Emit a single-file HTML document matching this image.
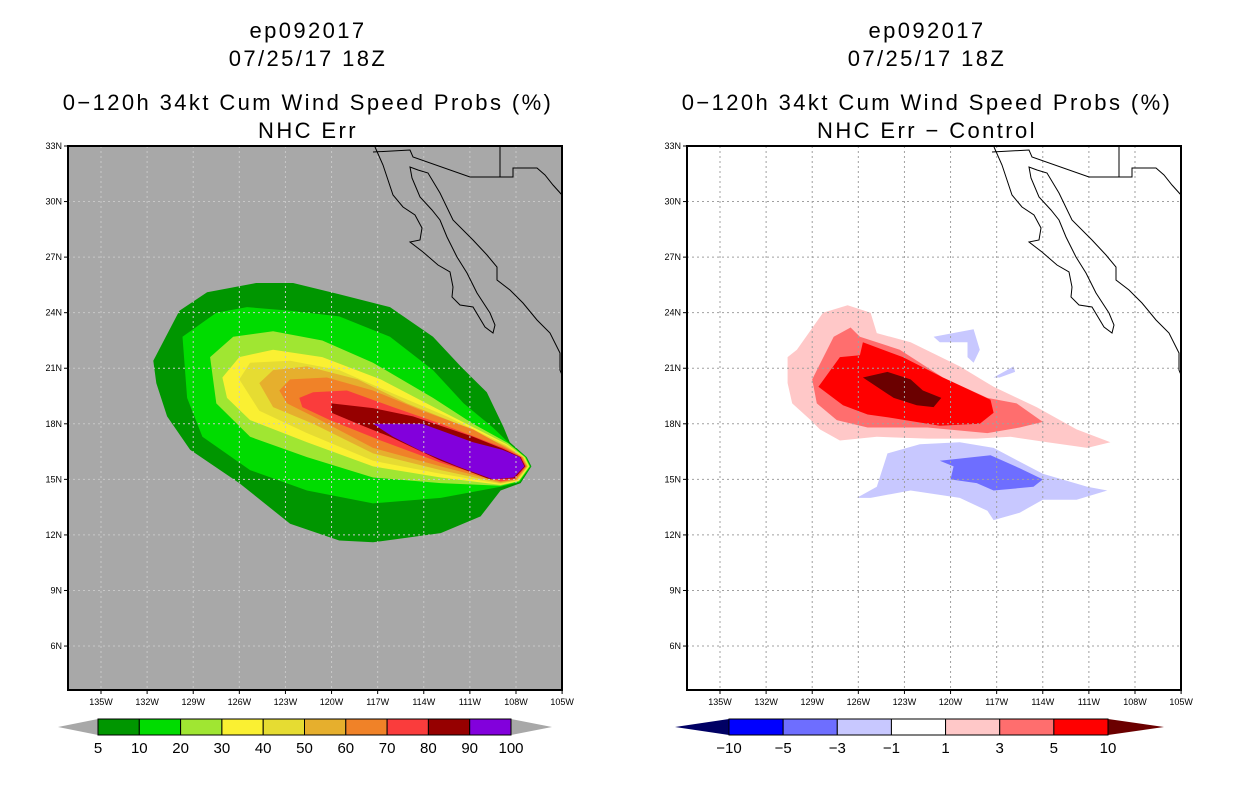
<!DOCTYPE html>
<html><head><meta charset="utf-8"><style>
body{margin:0;background:#fff;}
svg{display:block;font-family:"Liberation Sans",sans-serif;}
.t{font-size:22px;letter-spacing:2.4px;}
</style></head><body>
<svg id="s" width="1236" height="800" viewBox="0 0 1236 800">
<g text-anchor="middle" class="t">
<text x="308" y="38">ep092017</text>
<text x="308" y="66">07/25/17 18Z</text>
<text x="308" y="110">0−120h 34kt Cum Wind Speed Probs (%)</text>
<text x="308" y="138">NHC Err</text>
</g>
<g text-anchor="middle" class="t">
<text x="927" y="38">ep092017</text>
<text x="927" y="66">07/25/17 18Z</text>
<text x="927" y="110">0−120h 34kt Cum Wind Speed Probs (%)</text>
<text x="927" y="138">NHC Err − Control</text>
</g>
</svg>
<script>
// ---- data ----
const lonTicks=[135,132,129,126,123,120,117,114,111,108,105];
const latTicks=[33,30,27,24,21,18,15,12,9,6];
const probLevels=[5,10,20,30,40,50,60,70,80,90,100];
const probColors=["#009600","#00dc00","#a0e632","#faf032","#e6dc32","#e6af2d","#f08228","#fa3c3c","#960000","#8200dc"];
const diffLevels=[-10,-5,-3,-1,1,3,5,10];
const diffColors=["#0000ff","#6e6eff","#c8c8ff","#ffffff","#ffc8c8","#ff6e6e","#ff0000"];
// contours: [lonW, latN] pairs
const p5=[[131.6,21.4],[129.9,24.1],[128.1,25.1],[124.9,25.6],[122.5,25.6],[119.5,25.0],[116.2,24.3],[113.4,22.7],[111.6,21.1],[109.9,19.7],[108.8,17.8],[108.4,17.0],[107.3,16.2],[107.0,15.7],[107.7,14.8],[109.0,14.4],[110.3,13.0],[112.9,12.1],[117.3,11.6],[119.5,11.7],[122.7,12.6],[126.0,14.8],[129.2,16.6],[130.7,18.4],[131.4,20.2]];
const p10=[[129.7,22.7],[127.5,24.0],[125.5,24.3],[122.7,24.1],[119.5,23.8],[116.2,22.7],[113.4,20.9],[111.4,19.1],[109.5,17.8],[108.45,16.95],[107.35,16.2],[107.05,15.7],[107.75,14.85],[109.0,14.6],[112.9,14.0],[117.3,13.7],[121.6,14.4],[125.3,15.5],[128.4,17.3],[129.4,19.4]];
const p20=[[127.9,21.6],[126.4,22.7],[123.8,23.0],[120.6,22.5],[117.3,21.3],[113.4,19.4],[110.8,18.0],[108.5,16.95],[107.4,16.2],[107.1,15.7],[107.8,14.9],[109.0,14.65],[112.9,14.8],[117.3,15.1],[121.6,16.2],[125.3,17.3],[127.5,19.1]];
const p30=[[127.1,20.5],[126.0,21.6],[123.8,22.0],[120.6,21.6],[116.8,20.4],[112.9,18.7],[108.6,16.9],[107.45,16.2],[107.15,15.7],[107.85,14.9],[109.0,14.7],[112.9,15.1],[117.3,15.7],[121.6,17.0],[125.3,18.2],[126.8,19.4]];
const p40=[[126.0,20.4],[125.3,21.3],[122.7,21.4],[119.5,20.9],[116.2,19.7],[112.5,18.4],[108.65,16.85],[107.5,16.2],[107.2,15.7],[107.9,14.95],[109.0,14.75],[112.9,15.3],[117.3,16.0],[121.6,17.5],[124.7,18.7]];
const p50=[[124.7,20.2],[123.8,20.9],[121.6,21.1],[118.3,20.4],[115.1,19.1],[111.8,18.0],[108.7,16.8],[107.55,16.2],[107.25,15.7],[107.95,14.95],[109.0,14.8],[112.9,15.5],[117.3,16.4],[121.2,18.0],[123.8,18.9]];
const p60=[[123.4,19.8],[122.7,20.4],[120.3,20.5],[117.3,19.8],[114.1,18.7],[110.8,17.7],[108.75,16.75],[107.6,16.2],[107.3,15.7],[108.0,15.0],[109.0,14.85],[112.9,15.7],[117.3,16.7],[121.2,18.4],[122.9,19.1]];
const p70=[[122.1,19.4],[121.2,19.7],[119.0,19.8],[116.0,18.9],[112.9,18.0],[108.8,16.7],[107.65,16.2],[107.35,15.7],[108.05,15.0],[109.0,14.9],[112.9,15.9],[116.8,17.1],[120.1,18.2],[121.9,18.9]];
const p80=[[120.0,19.1],[117.3,18.85],[114.7,18.4],[110.8,17.3],[108.85,16.65],[107.7,16.2],[107.4,15.7],[108.1,15.05],[109.7,15.0],[112.9,16.0],[116.2,17.3],[118.3,18.0],[120.0,18.6]];
const p90=[[117.3,18.0],[114.1,18.0],[110.8,17.0],[108.9,16.6],[107.75,16.2],[107.45,15.7],[108.15,15.1],[109.5,15.0],[111.8,15.7],[114.1,16.5],[116.0,17.3]];
const d1=[[130.6,21.6],[130.0,22.0],[128.3,24.0],[126.7,24.4],[125.2,24.0],[124.8,22.9],[122.6,22.4],[119.4,21.1],[117.2,20.0],[114.4,18.9],[111.8,17.7],[109.6,17.0],[111.1,16.7],[113.7,17.0],[116.1,17.3],[118.3,17.2],[121.5,17.2],[124.8,17.3],[127.2,17.1],[128.5,17.7],[129.1,18.2],[130.3,19.1],[130.6,20.2]];
const d3=[[129.0,20.4],[127.6,22.7],[126.5,23.2],[125.9,22.7],[123.3,22.0],[120.5,20.5],[117.6,19.4],[115.7,19.1],[114.0,18.1],[115.5,17.8],[117.6,17.5],[121.5,17.8],[125.4,17.8],[127.4,18.2],[128.7,19.1]];
const d5=[[128.6,20.0],[127.2,21.6],[125.9,21.7],[125.7,22.4],[123.1,21.6],[120.5,20.5],[117.4,19.3],[117.2,18.6],[118.1,18.0],[120.7,17.9],[123.7,18.3],[125.4,18.5],[127.0,19.0]];
const d10=[[125.7,20.5],[124.1,20.8],[122.6,20.4],[121.8,19.8],[120.6,19.4],[121.1,18.9],[122.2,19.0],[123.7,19.4]];
const dm1=[[126.1,14.0],[124.8,14.6],[124.1,16.4],[122.0,16.9],[119.4,17.0],[117.2,16.7],[114.0,15.3],[111.1,14.6],[109.8,14.4],[111.8,13.9],[114.0,13.9],[115.5,13.2],[117.2,12.8],[117.6,13.3],[119.4,14.0],[122.6,14.4],[125.2,14.0]];
const dm1b=[[121.1,22.7],[118.5,23.1],[118.1,22.0],[118.5,21.3],[118.9,21.6],[118.9,22.4],[120.7,22.4]];
const dm1c=[[117.2,20.5],[115.9,21.1],[115.8,20.8],[116.8,20.5]];
const dm3=[[120.7,16.0],[117.4,16.3],[115.5,15.6],[114.0,15.0],[114.6,14.6],[117.2,14.4],[118.3,14.8],[120.0,15.0],[119.8,15.7]];

// ---- drawing ----
const NS="http://www.w3.org/2000/svg", svg=document.getElementById('s');
const FW=494,FH=544,FY=146;
function mk(tag,attrs,parent){const e=document.createElementNS(NS,tag);for(const k in attrs)e.setAttribute(k,attrs[k]);(parent||svg).appendChild(e);return e;}
function xs(fx,lon){return fx+101-68+(135-lon)*15.37;}
function ys(lat){return 146+(33-lat)*18.52;}
function pts(fx,arr){return arr.map(p=>xs(fx,p[0]).toFixed(1)+","+ys(p[1]).toFixed(1)).join(" ");}
const coast=[[375,147],[383,165],[393,195],[403,207],[415,215],[422,228],[420,240],[410,242],[423,252],[438,265],[450,272],[453,287],[452,297],[460,305],[473,307],[485,327],[493,333],[495,325],[490,313],[477,293],[467,273],[457,257],[447,237],[440,220],[432,210],[420,197],[412,178],[410,167],[418,170],[428,173],[440,193],[453,220],[473,240],[487,255],[497,267],[497,280],[510,290],[523,303],[537,320],[550,333],[560,353],[560,370],[562,375]];
const border1=[[373,152],[410,150],[413,157],[470,177],[500,177],[500,147]];
const border2=[[500,177],[513,177],[513,168],[537,168],[545,175],[553,185],[562,195]];
function panel(fx,name,bg,layers){
  const g=mk('g',{});
  
  
  const bgr=mk('rect',{x:fx,y:FY,width:FW,height:FH,fill:bg},g);
  
  
  const cg=mk('g',{},g);
  layers.forEach(L=>{
    const p=mk('polygon',{points:pts(fx,L.d),fill:L.c},cg);
    
    
  });
  const gg=mk('g',{stroke:bg==="#fff"?"#a0a0a0":"#c8c8c8","stroke-width":1,"stroke-dasharray":"2,3"},g);
  
  
  lonTicks.slice(0,-1).forEach(l=>{mk('line',{x1:xs(fx,l),x2:xs(fx,l),y1:FY,y2:FY+FH},gg);});
  latTicks.forEach(l=>{mk('line',{x1:fx,x2:fx+FW,y1:ys(l),y2:ys(l)},gg);});
  const dx=fx-68;
  [coast,border1,border2].forEach((c,i)=>{
    const pl=mk('polyline',{points:c.map(p=>(p[0]+dx)+","+p[1]).join(" "),fill:"none",stroke:"#000","stroke-width":1},g);
    
    
  });
  const fr=mk('rect',{x:fx,y:FY,width:FW,height:FH,fill:"none",stroke:"#000","stroke-width":2},g);
  
  
  latTicks.forEach(l=>{
    const t=mk('text',{x:fx-6,y:ys(l)+3,"font-size":9,"text-anchor":"end"},g);t.textContent=l+"N";
    
    
    mk('line',{x1:fx-4,x2:fx,y1:ys(l),y2:ys(l),stroke:"#000"},g);
  });
  lonTicks.forEach(l=>{
    const t=mk('text',{x:xs(fx,l),y:705,"font-size":9,"text-anchor":"middle"},g);t.textContent=l+"W";
    
    
    mk('line',{x1:xs(fx,l),x2:xs(fx,l),y1:FY+FH,y2:FY+FH+4,stroke:"#000"},g);
  });
}
panel(68,'left-map','#a8a8a8',[
 {d:p5,c:probColors[0],n:'contour-5'},{d:p10,c:probColors[1],n:'contour-10'},{d:p20,c:probColors[2],n:'contour-20'},
 {d:p30,c:probColors[3],n:'contour-30'},{d:p40,c:probColors[4],n:'contour-40'},{d:p50,c:probColors[5],n:'contour-50'},
 {d:p60,c:probColors[6],n:'contour-60'},{d:p70,c:probColors[7],n:'contour-70'},{d:p80,c:probColors[8],n:'contour-80'},
 {d:p90,c:probColors[9],n:'contour-90'}]);
panel(687,'right-map','#fff',[
 {d:d1,c:diffColors[4],n:'diff-1'},{d:d3,c:diffColors[5],n:'diff-3'},{d:d5,c:diffColors[6],n:'diff-5'},{d:d10,c:"#6b0000",n:'diff-10'},
 {d:dm1,c:diffColors[2],n:'diff-minus1'},{d:dm1b,c:diffColors[2],n:'diff-minus1-north'},{d:dm1c,c:diffColors[2],n:'diff-minus1-small'},{d:dm3,c:diffColors[1],n:'diff-minus3'}]);

function colorbar(name,x0,x1,tipL,tipR,cols,labels,lc,rc){
  const g=mk('g',{});
  
  
  const y0=719,y1=735,w=(x1-x0)/cols.length;
  mk('polygon',{points:`${tipL},727 ${x0},${y0} ${x0},${y1}`,fill:lc},g);
  mk('polygon',{points:`${tipR},727 ${x1},${y0} ${x1},${y1}`,fill:rc},g);
  cols.forEach((c,i)=>{
    const r=mk('rect',{x:x0+i*w,y:y0,width:w,height:y1-y0,fill:c,stroke:"#000","stroke-width":1},g);
    
    
  });
  labels.forEach((l,i)=>{
    const t=mk('text',{x:x0+(i+(labels.length===cols.length+1?0:1))*w,y:753,"font-size":15,"text-anchor":"middle"},g);
    t.textContent=String(l).replace('-','−');
    
    
  });
}
colorbar('prob-colorbar',98,511,58,552,probColors,probLevels,"#a8a8a8","#a8a8a8");
colorbar('diff-colorbar',729,1108,675,1164,diffColors,diffLevels,"#000064","#6b0000");
</script>
</body></html>
